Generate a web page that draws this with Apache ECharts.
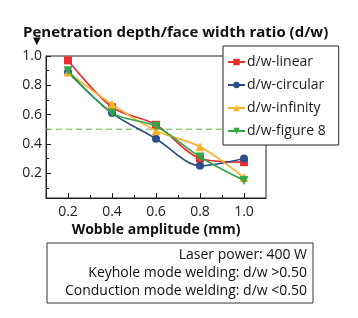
<!DOCTYPE html>
<html>
<head>
<meta charset="utf-8">
<script src="https://cdn.jsdelivr.net/npm/echarts@6/dist/echarts.min.js"></script>
<style>html,body{margin:0;padding:0;background:#fff;}#c{width:358px;height:318px;}</style>
</head>
<body>
<div id="c"></div>
<script>
const amplitudes = [0.2, 0.4, 0.6, 0.8, 1.0];
const linear   = [0.97, 0.65, 0.53, 0.30, 0.275];
const circular = [0.89, 0.61, 0.435, 0.25, 0.30];
const infinity = [0.89, 0.67, 0.49, 0.38, 0.17];
const figure8  = [0.90, 0.61, 0.52, 0.31, 0.15];
const seriesNames = ['d/w-linear', 'd/w-circular', 'd/w-infinity', 'd/w-figure 8'];
const xTicks = [0.2, 0.4, 0.6, 0.8, 1.0];
const xMinorTicks = [0.3, 0.5, 0.7, 0.9];
const yTicks = [0.2, 0.4, 0.6, 0.8, 1.0];
const yMinorTicks = [0.1, 0.3, 0.5, 0.7, 0.9];
const xRange = [0.1, 1.1];
const threshold = 0.5;
const noteLines = ['Laser power: 400 W', 'Keyhole mode welding: d/w >0.50', 'Conduction mode welding: d/w <0.50'];

const FONT = 'Open Sans';
const colors = ['#e8312f', '#2a4e8a', '#f8b12a', '#33a848'];
const symbols = ['rect', 'circle', 'triangle', 'triangle'];
const rot = [0, 0, 0, 180];
const allData = [linear, circular, infinity, figure8];

const chart = echarts.init(document.getElementById('c'));
const axisCommon = {
  type: 'value',
  axisLine: { show: true, lineStyle: { color: '#222', width: 1 } },
  splitLine: { show: false },
};
const dataSeries = seriesNames.map((n, i) => ({
  name: n, type: 'line', smooth: 0.3,
  xAxisIndex: 0, yAxisIndex: 0,
  data: amplitudes.map((x, j) => [x, allData[i][j]]),
  symbol: symbols[i], symbolRotate: rot[i],
  symbolSize: i <= 1 ? 8 : 9,
  lineStyle: { width: 1.6, color: colors[i] },
  itemStyle: { color: colors[i] },
  z: 3 + i
}));
const thresholdSeries = {
  name: 'threshold', type: 'line', silent: true,
  data: xRange.map(x => [x, threshold]),
  symbol: 'none', z: 2,
  lineStyle: { type: [6, 4], color: '#5fae3e', width: 1 },
  emphasis: { disabled: true }
};
chart.setOption({
  animation: false,
  color: colors,
  title: {
    text: 'Penetration depth/face width ratio (d/w)',
    left: 18, top: 20,
    textStyle: { fontFamily: FONT, fontSize: 15, fontWeight: 'bold', color: '#111' }
  },
  grid: { left: 46, top: 56, width: 220, height: 142, show: true, borderColor: '#222', borderWidth: 1, backgroundColor: 'transparent' },
  xAxis: [
    Object.assign({}, axisCommon, {
      min: xRange[0], max: xRange[1],
      name: 'Wobble amplitude (mm)', nameLocation: 'middle', nameGap: 25,
      nameTextStyle: { fontFamily: FONT, fontSize: 14, fontWeight: 'bold', color: '#111' },
      axisTick: { show: true, inside: true, length: 5, customValues: xTicks, lineStyle: { color: '#222' } },
      axisLabel: { customValues: xTicks, fontFamily: FONT, fontSize: 14, color: '#222', margin: 7, formatter: v => v.toFixed(1) }
    }),
    Object.assign({}, axisCommon, {
      min: xRange[0], max: xRange[1], position: 'bottom',
      axisLine: { show: false },
      axisTick: { show: true, inside: true, length: 3, customValues: xMinorTicks, lineStyle: { color: '#222' } },
      axisLabel: { show: false }
    })
  ],
  yAxis: [
    Object.assign({}, axisCommon, {
      min: 0.03, max: 1.0,
      axisTick: { show: true, inside: true, length: 5, customValues: yTicks, lineStyle: { color: '#222' } },
      axisLabel: { customValues: yTicks, fontFamily: FONT, fontSize: 14, color: '#222', margin: 4, formatter: v => v.toFixed(1) }
    }),
    Object.assign({}, axisCommon, {
      min: 0.03, max: 1.0, position: 'left',
      axisLine: { show: false },
      axisTick: { show: true, inside: true, length: 3, customValues: yMinorTicks, lineStyle: { color: '#222' } },
      axisLabel: { show: false }
    })
  ],
  legend: {
    orient: 'vertical', left: 223, top: 46,
    padding: [9, 13, 7, 4],
    itemGap: 9,
    itemWidth: 17, itemHeight: 8,
    backgroundColor: '#fff', borderColor: '#222', borderWidth: 1,
    textStyle: { fontFamily: FONT, fontSize: 14, color: '#222', padding: [0, 0, 0, -3] },
    data: seriesNames
  },
  series: [thresholdSeries].concat(dataSeries),
  graphic: [
    { type: 'text', left: 33, top: 36, style: { text: '▼', fontSize: 10, fill: '#111', fontFamily: 'DejaVu Sans' } },
    { type: 'rect', shape: { x: 47, y: 243, width: 266, height: 60 }, style: { fill: '#fff', stroke: '#333', lineWidth: 1 } },
    ...noteLines.map((t, k) => ({
      type: 'text', x: 307, y: 255 + k * 18,
      style: { text: t, align: 'right', verticalAlign: 'middle', fontFamily: FONT, fontSize: 14, fill: '#111' }
    }))
  ]
});
</script>
</body>
</html>
